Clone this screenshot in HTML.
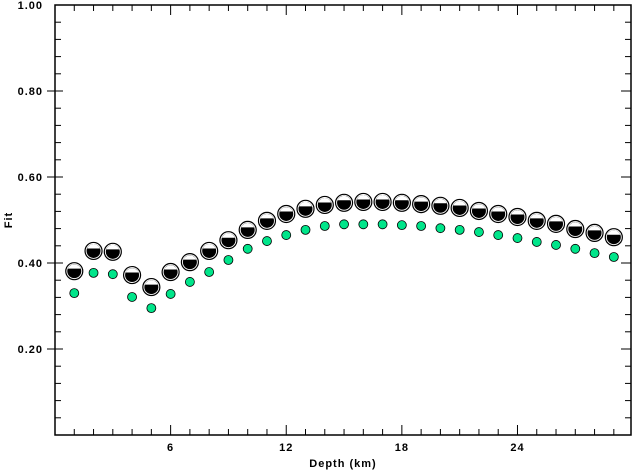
<!DOCTYPE html>
<html><head><meta charset="utf-8"><style>
body{margin:0;background:#fff}
svg text{font-family:"Liberation Sans",sans-serif;font-weight:bold;font-size:11px;letter-spacing:1px}
</style></head><body>
<svg id="chart" width="632" height="471" xmlns="http://www.w3.org/2000/svg"></svg>
<script>
const depths=[1,2,3,4,5,6,7,8,9,10,11,12,13,14,15,16,17,18,19,20,21,22,23,24,25,26,27,28,29];
const fitBall=[0.381,0.428,0.426,0.372,0.344,0.379,0.402,0.428,0.453,0.477,0.498,0.514,0.526,0.535,0.540,0.542,0.542,0.540,0.537,0.533,0.528,0.521,0.514,0.507,0.498,0.491,0.479,0.470,0.460];
const fitGreen=[0.330,0.377,0.374,0.321,0.295,0.328,0.356,0.379,0.407,0.433,0.451,0.465,0.477,0.486,0.490,0.490,0.490,0.488,0.486,0.481,0.477,0.472,0.465,0.458,0.449,0.442,0.433,0.423,0.414];
const xTicks=[6,12,18,24];
const yTicks=[0.20,0.40,0.60,0.80,1.00];
const yLabels=["0.20","0.40","0.60","0.80","1.00"];
const L=55,R=631,T=5,B=435;
const X=d=>L+d*19.27, Y=v=>B-v*(B-T);
const svg=document.getElementById('chart');const NS="http://www.w3.org/2000/svg";
function mk(t,a,p){const e=document.createElementNS(NS,t);for(const k in a)e.setAttribute(k,a[k]);(p||svg).appendChild(e);return e;}
const frame=mk('rect',{x:L,y:T,width:R-L,height:B-T,fill:'none',stroke:'#000','stroke-width':1.5});


for(let d=1;d<=29;d++){const maj=d%6===0;const x=X(d);
mk('line',{x1:x,y1:B,x2:x,y2:B-(maj?10:6),stroke:'#000'});
mk('line',{x1:x,y1:T,x2:x,y2:T+(maj?10:6),stroke:'#000'});}
for(let i=1;i<25;i++){const v=i*0.04;const maj=i%5===0;const y=Y(v);
mk('line',{x1:L-(maj?8:0),y1:y,x2:L+(maj?8:6),y2:y,stroke:'#000'});
mk('line',{x1:R-(maj?10:6),y1:y,x2:R,y2:y,stroke:'#000'});}
xTicks.forEach(d=>{const t=mk('text',{x:X(d),y:B+16,'text-anchor':'middle'});t.textContent=d;

});
yTicks.forEach((v,i)=>{const t=mk('text',{x:L-12,y:Y(v)+4,'text-anchor':'end'});t.textContent=yLabels[i];

});
const xt=mk('text',{x:343,y:467,'text-anchor':'middle'});xt.textContent='Depth (km)';


const yt=mk('text',{x:12,y:220,'text-anchor':'middle',transform:'rotate(-90 12 220)'});yt.textContent='Fit';


depths.forEach((d,i)=>{const c=mk('circle',{cx:X(d),cy:Y(fitGreen[i]),r:4.5,fill:'#00e58a',stroke:'#000','stroke-width':0.8});

});
depths.forEach((d,i)=>{const x=X(d),y=Y(fitBall[i]);
const g=mk('g',{});


mk('circle',{cx:x,cy:y,r:8.5,fill:'#fff',stroke:'#000','stroke-width':1.2},g);
mk('circle',{cx:x,cy:y,r:7,fill:'#000'},g);
mk('path',{d:`M${x-6.5} ${y-2.5} A7 7 0 0 1 ${x+6.5} ${y-2.5} Z`,fill:'#fff'},g);
});
</script>
</body></html>
